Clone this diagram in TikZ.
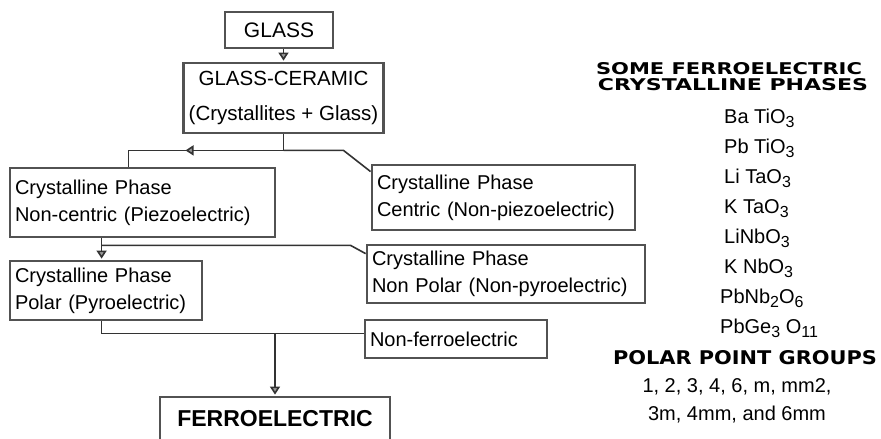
\documentclass[tikz,border=0pt]{standalone}
\usepackage{fontspec}
\setmainfont{Liberation Sans}
\newfontfamily\headfont{DejaVu Sans}
\usepackage{graphicx}
\usetikzlibrary{arrows.meta,calc,decorations.markings}
\newcommand\lowr[1]{\raisebox{-4pt}{\fontsize{16}{16}\selectfont #1}}
\tikzset{
  box/.style={draw=black!68, line width=2.8pt, fill=white, inner xsep=5pt, inner ysep=2pt,
              font=\fontsize{20}{27}\selectfont},
  lbox/.style={box, align=left},
  cbox/.style={box, align=center},
  conn/.style={line width=1.6pt, draw=black!80},
  tipstyle/.style={-{Triangle[length=8pt,width=10pt,fill=black!40]}, shorten >=1pt},
  midtip/.style={decoration={markings, mark=at position #1 with {\arrow{Triangle[length=8pt,width=10pt,fill=black!40]}}}, postaction={decorate}},
  formula/.style={anchor=base west, inner sep=0pt, font=\fontsize{20}{20}\selectfont},
  heading/.style={inner sep=0pt, align=center, font=\headfont\bfseries\fontsize{12}{12}\selectfont},
  plain/.style={inner sep=0pt, font=\fontsize{20}{20}\selectfont},
}
\begin{document}
\begin{tikzpicture}[x=1pt,y=-1pt]
\useasboundingbox (0,0) rectangle (881,439);
\fill[white] (0,0) rectangle (881,439);
\clip (0,0) rectangle (881,439);

% flowchart boxes
\node[cbox, minimum width=108pt, minimum height=36pt, font=\fontsize{21}{27}\selectfont] (glass) at (279,30) {GLASS};
\node[cbox, minimum width=193pt, minimum height=70pt, font=\fontsize{20.5}{35}\selectfont] (gc) at (283.5,98) {GLASS-CERAMIC\\(Crystallites + Glass)};
\node[lbox, text width=255pt, minimum height=69pt] (box1) at (142.5,202.5) {Crystalline Phase\\Non-centric (Piezoelectric)};
\node[lbox, text width=253pt, minimum height=65pt] (centric) at (503.5,197.5) {Crystalline Phase\\Centric (Non-piezoelectric)};
\node[lbox, text width=182pt, minimum height=59pt] (polar) at (106,290.5) {Crystalline Phase\\Polar (Pyroelectric)};
\node[lbox, text width=268pt, minimum height=58pt] (nonpolar) at (506,274) {Crystalline Phase\\Non Polar (Non-pyroelectric)};
\node[lbox, text width=172pt, minimum height=38pt] (nonfer) at (456,339) {Non-ferroelectric};
\node[cbox, minimum width=230pt, minimum height=44pt, font=\bfseries\fontsize{23}{23}\selectfont] (ferro) at (275,419) {FERROELECTRIC};

% connectors
\draw[conn, tipstyle] (glass.south -| gc.north) -- (gc.north);
\draw[conn] (gc.south) -- ++(0,16) coordinate (j1);
\draw[conn, midtip=98pt] (j1) -| ($(box1.north west)+(120,0)$);
\draw[conn] (j1) -- ++(60,0) -- ($(centric.north west)+(0,8)$);
\draw[conn, tipstyle] ($(box1.south west)+(93,0)$) -- ($(polar.north west)+(93,0)$);
\draw[conn] ($(box1.south west)+(93,7)$) -- ++(249,0) -- ($(nonpolar.north west)+(0,10)$);
\draw[conn] ($(polar.south west)+(93,0)$) -- ++(0,12) coordinate (j2) -- (j2 -| nonfer.west);
\draw[conn, tipstyle] (j2 -| ferro.north) -- (ferro.north);

% right-hand list
\node[heading] (h1) at (729,69) {\resizebox{266pt}{12pt}{SOME FERROELECTRIC}};
\node[heading] (h2) at (733,85) {\resizebox{270pt}{12pt}{CRYSTALLINE PHASES}};
\node[formula] (f1) at (724,123) {Ba TiO\lowr{3}};
\node[formula] (f2) at (724,153) {Pb TiO\lowr{3}};
\node[formula] (f3) at (724,183) {Li TaO\lowr{3}};
\node[formula] (f4) at (724,213) {K TaO\lowr{3}};
\node[formula] (f5) at (724,243) {LiNbO\lowr{3}};
\node[formula] (f6) at (724,273) {K NbO\lowr{3}};
\node[formula] (f7) at (720,303) {PbNb\lowr{2}O\lowr{6}};
\node[formula] (f8) at (720,333) {PbGe\lowr{3} O\lowr{11}};
\node[heading] (h3) at (745,358) {\resizebox{264pt}{14pt}{POLAR POINT GROUPS}};
\node[plain] (pg1) at (737,387) {1, 2, 3, 4, 6, m, mm2,};
\node[plain] (pg2) at (737,415) {3m, 4mm, and 6mm};
\end{tikzpicture}
\end{document}
